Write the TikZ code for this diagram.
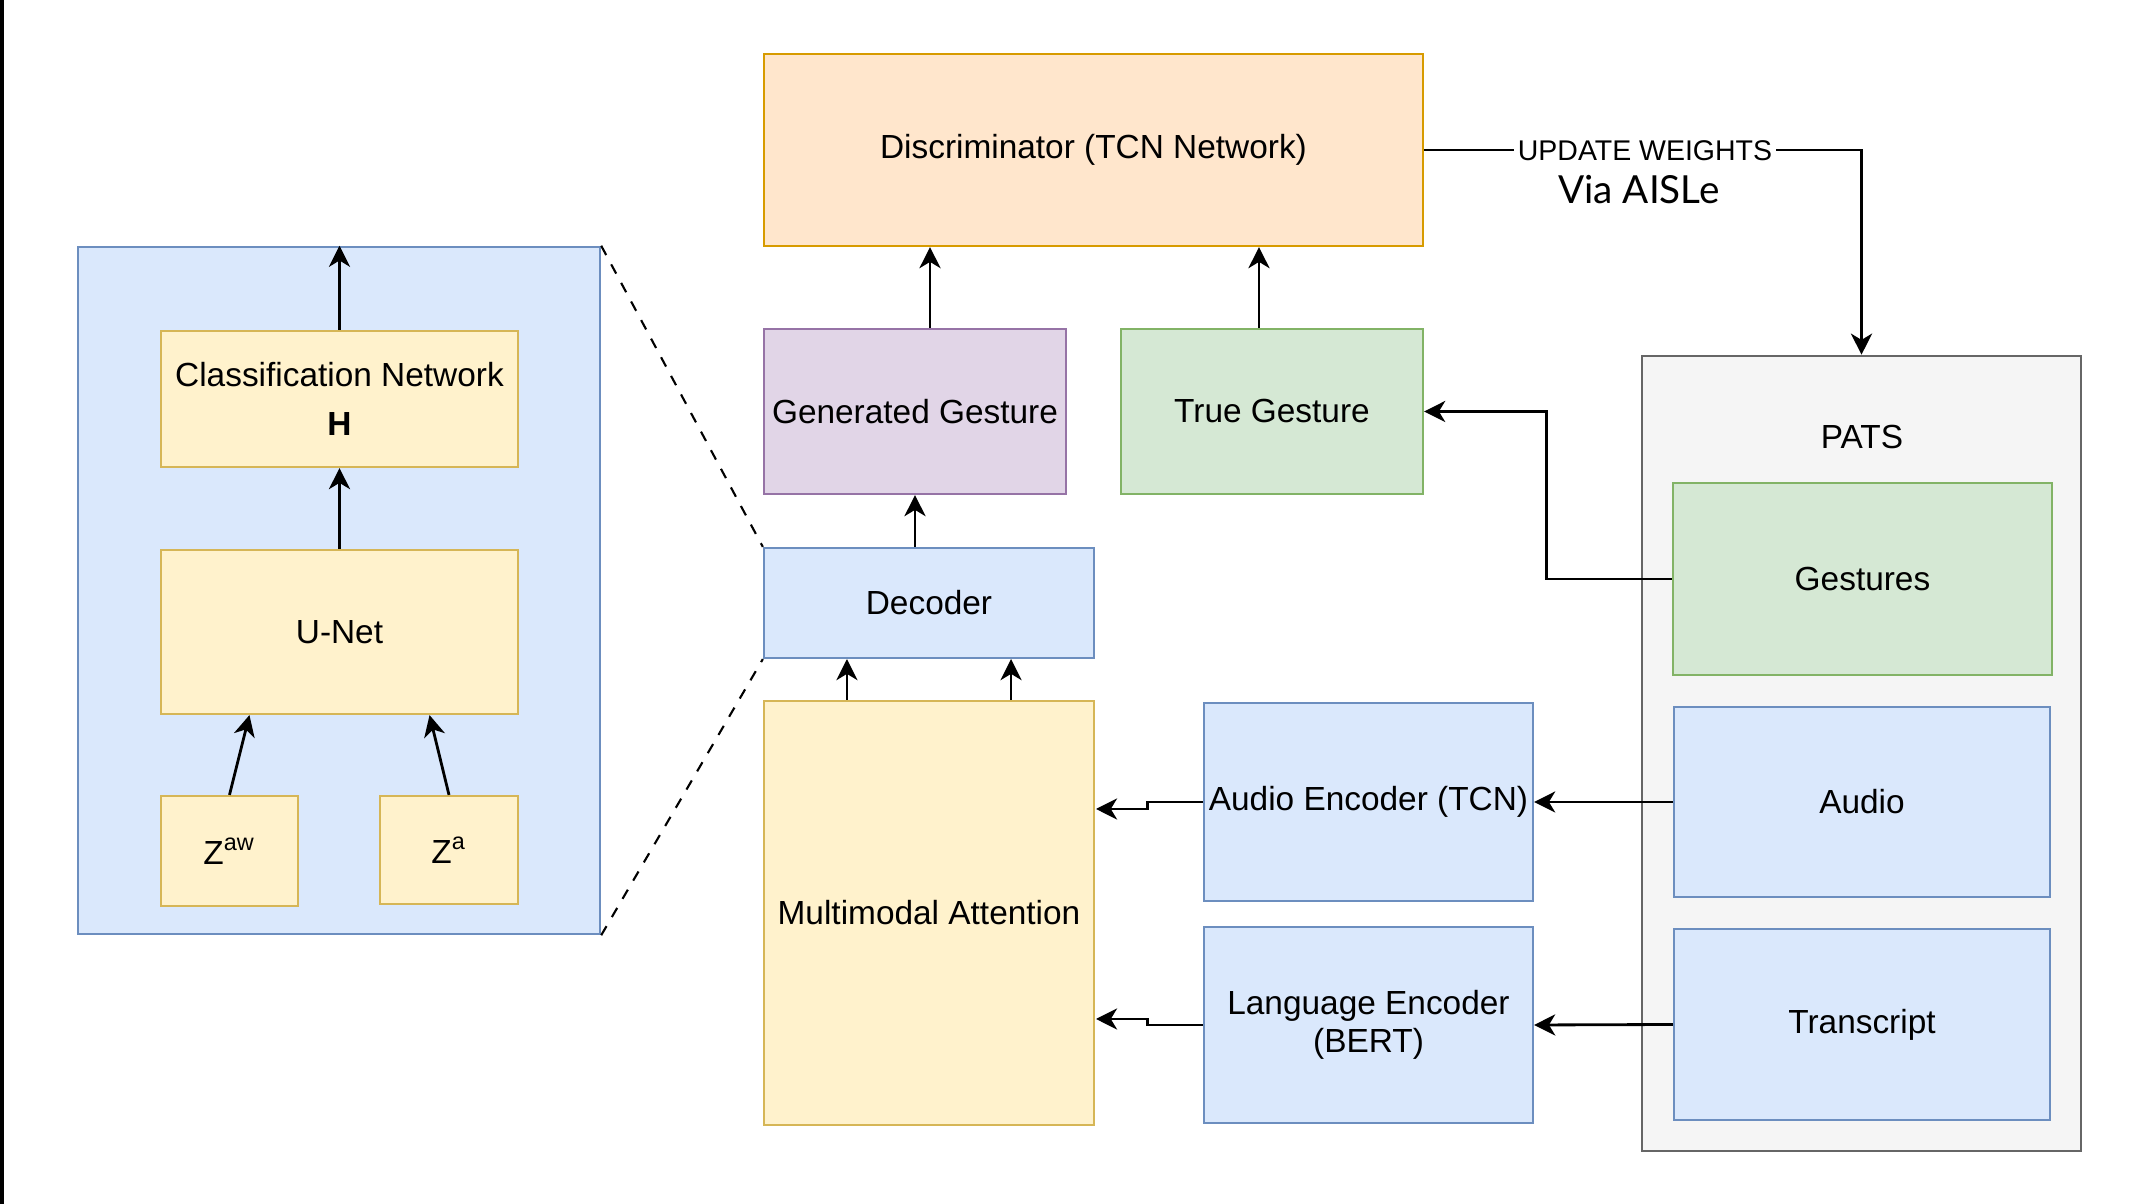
\documentclass[tikz,border=0pt]{standalone}
\usepackage{fontspec}
\setmainfont{Liberation Sans}
\newfontfamily\aislefont{Lato}
\usetikzlibrary{arrows.meta}
\definecolor{blueFill}{HTML}{DAE8FC}
\definecolor{blueLine}{HTML}{6C8EBF}
\definecolor{yelFill}{HTML}{FFF2CC}
\definecolor{yelLine}{HTML}{D6B656}
\definecolor{orgFill}{HTML}{FFE6CC}
\definecolor{orgLine}{HTML}{D79B00}
\definecolor{purFill}{HTML}{E1D5E7}
\definecolor{purLine}{HTML}{9673A6}
\definecolor{grnFill}{HTML}{D5E8D4}
\definecolor{grnLine}{HTML}{82B366}
\definecolor{gryFill}{HTML}{F5F5F5}
\definecolor{gryLine}{HTML}{666666}
\begin{document}
\begin{tikzpicture}[x=0.01cm,y=-0.01cm,
  box/.style={draw,line width=0.6pt,inner sep=0pt,align=center,font=\fontsize{9.5}{14}\selectfont},
  bluebox/.style={box,fill=blueFill,draw=blueLine},
  yelbox/.style={box,fill=yelFill,draw=yelLine},
  orgbox/.style={box,fill=orgFill,draw=orgLine},
  purbox/.style={box,fill=purFill,draw=purLine},
  grnbox/.style={box,fill=grnFill,draw=grnLine},
  arr/.style={-{Stealth[length=6pt,width=6pt,inset=1.8pt]},line width=0.8pt},
  zoomline/.style={dashed,line width=0.6pt}]
\useasboundingbox (0,0) rectangle (2156,1204);
\draw[line width=0.035cm] (1.75,0) -- (1.75,1204);
% zoomed panel
\node[bluebox,minimum width=5.22cm,minimum height=6.87cm] (panel) at (339,590.5) {};
\node[yelbox,minimum width=3.57cm,minimum height=1.36cm] (cls) at (339.5,399) {Classification Network\\\textbf{H}};
\node[yelbox,minimum width=3.57cm,minimum height=1.64cm] (unet) at (339.5,632) {U-Net};
\node[yelbox,minimum width=1.37cm,minimum height=1.10cm] (zaw) at (229.5,851) {Z\textsuperscript{aw}};
\node[yelbox,minimum width=1.38cm,minimum height=1.08cm] (za) at (449,850) {Z\textsuperscript{a}};
\draw[arr] (cls.north) -- (cls.north |- panel.north);
\draw[arr] (unet.north) -- (cls.south);
\draw[arr] (zaw.north) -- ([xshift=-0.9cm]unet.south);
\draw[arr] (za.north) -- ([xshift=0.9cm]unet.south);
% main network
\node[orgbox,minimum width=6.59cm,minimum height=1.92cm] (disc) at (1093.5,150) {Discriminator (TCN Network)};
\node[purbox,minimum width=3.02cm,minimum height=1.65cm] (gen) at (915,411.5) {Generated Gesture};
\node[grnbox,minimum width=3.02cm,minimum height=1.65cm] (trueg) at (1272,411.5) {True Gesture};
\node[bluebox,minimum width=3.30cm,minimum height=1.10cm] (dec) at (929,603) {Decoder};
\node[yelbox,minimum width=3.30cm,minimum height=4.24cm] (ma) at (929,913) {Multimodal Attention};
\node[bluebox,minimum width=3.29cm,minimum height=1.98cm] (aenc) at (1368.5,802) {Audio Encoder (TCN)};
\node[bluebox,minimum width=3.29cm,minimum height=1.96cm,font=\fontsize{9.5}{11}\selectfont] (lenc) at (1368.5,1025) {Language Encoder\\(BERT)};
\node[box,fill=gryFill,draw=gryLine,minimum width=4.39cm,minimum height=7.95cm] (pats) at (1861.5,753.5) {};
\node[font=\fontsize{9.5}{14}\selectfont] (patsT) at (1862,437) {PATS};
\node[grnbox,minimum width=3.79cm,minimum height=1.92cm] (gest) at (1862.5,579) {Gestures};
\node[bluebox,minimum width=3.76cm,minimum height=1.90cm] (audio) at (1862,802) {Audio};
\node[bluebox,minimum width=3.76cm,minimum height=1.91cm] (trans) at (1862,1024.5) {Transcript};
\draw[zoomline] (panel.north east) -- (dec.north west);
\draw[zoomline] (panel.south east) -- (dec.south west);
\draw[arr] ([xshift=0.15cm]gen.north) -- ([xshift=0.15cm]gen.north |- disc.south);
\draw[arr] ([xshift=-0.13cm]trueg.north) -- ([xshift=-0.13cm]trueg.north |- disc.south);
\draw[arr] (gen.south |- dec.north) -- (gen.south);
\draw[arr] ([xshift=-0.82cm]ma.north) -- ([xshift=-0.82cm]dec.south);
\draw[arr] ([xshift=0.82cm]ma.north) -- ([xshift=0.82cm]dec.south);
\coordinate (aTip) at (1096,809);
\coordinate (lTip) at (1096,1019);
\draw[arr] (aenc.west) -- ++(-55,0) |- (aTip);
\draw[arr] (lenc.west) -- ++(-55,0) |- (lTip);
\draw[arr] (audio.west) -- (aenc.east);
\draw[arr] (trans.west) -- (lenc.east);
\draw[arr] (gest.west) -- ++(-125,0) |- (trueg.east);
\draw[arr] (disc.east) -| (pats.north);
\node[fill=white,inner sep=1pt,font=\fontsize{8.1}{9}\selectfont] (upd) at (1645,151) {UPDATE WEIGHTS};
\node[font=\aislefont\fontsize{11}{13}\selectfont] (via) at (1639,190) {Via AISLe};
\end{tikzpicture}
\end{document}
